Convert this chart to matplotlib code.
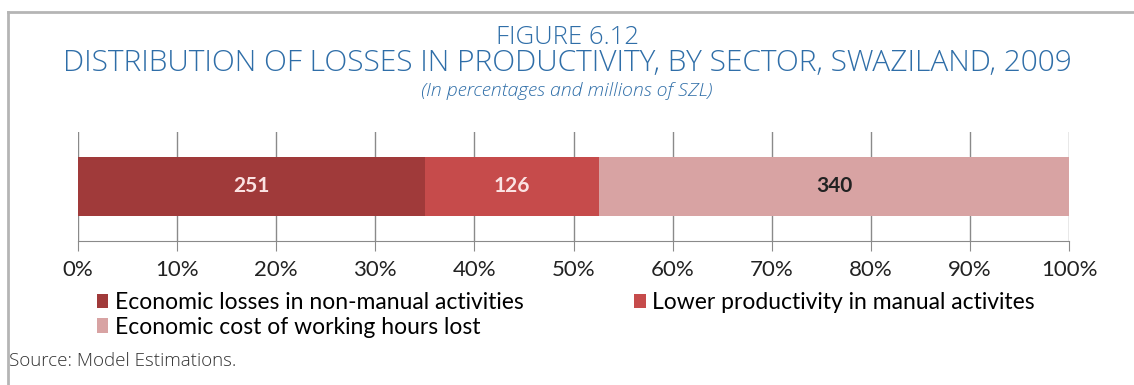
import matplotlib.pyplot as plt

series = ["Economic losses in non-manual activities",
          "Lower productivity in manual activites",
          "Economic cost of working hours lost"]
values = [251, 126, 340]
colors = ["#a03a3a", "#c64b4b", "#d8a3a3"]
label_colors = ["#fbe3e3", "#fbe3e3", "#222222"]
ticks = [0, 10, 20, 30, 40, 50, 60, 70, 80, 90, 100]

blue = "#2f6ea8"
font = "Lato"

fig = plt.figure(figsize=(11.34, 3.85), dpi=100)

# gray frame on top and left
fig.add_artist(plt.Line2D([8 / 1134, 8 / 1134], [0, 1 - 12 / 385], transform=fig.transFigure,
                          color="#b5b5b5", lw=2))
fig.add_artist(plt.Line2D([8 / 1134, 1], [1 - 12 / 385, 1 - 12 / 385], transform=fig.transFigure,
                          color="#b5b5b5", lw=2))

fig.text(0.5, 1 - 37 / 385, "FIGURE 6.12", ha="center", va="center",
         color=blue, fontsize=18.5, family="Open Sans", fontweight="light")
fig.text(0.5, 1 - 63 / 385, "DISTRIBUTION OF LOSSES IN PRODUCTIVITY, BY SECTOR, SWAZILAND, 2009",
         ha="center", va="center", color=blue, fontsize=21.5, family="Open Sans", fontweight="light")
fig.text(0.5, 1 - 91 / 385, "(In percentages and millions of SZL)", ha="center", va="center",
         color=blue, fontsize=14, family="Open Sans", style="italic", fontweight="light")

ax = fig.add_axes([78 / 1134, 1 - 241 / 385, (1069 - 78) / 1134, 109 / 385])
total = sum(values)
left = 0
handles = []
for name, v, c, lc in zip(series, values, colors, label_colors):
    w = v / total * 100
    b = ax.barh(0.5, w, left=left, height=0.55, color=c, label=name, zorder=2)
    handles.append(b)
    ax.text(left + w / 2, 0.5, str(v), ha="center", va="center", color=lc,
            fontsize=15, family=font, fontweight="bold", zorder=3)
    left += w

ax.set_xlim(0, 100)
ax.set_ylim(0, 1)
ax.set_xticks(ticks)
ax.set_xticklabels([f"{t}%" for t in ticks], family=font, fontsize=16, color="#222222")
ax.set_yticks([])
ax.grid(axis="x", color="#8a8a8a", lw=1, zorder=1)
for s in ["top", "right", "left"]:
    ax.spines[s].set_visible(False)
ax.spines["bottom"].set_color("#8a8a8a")
ax.tick_params(axis="x", length=7, color="#8a8a8a", pad=7)

leg = fig.legend([handles[0], handles[2], handles[1]], [series[0], series[2], series[1]],
                 ncol=2, loc="upper left", bbox_to_anchor=(97 / 1134, 1 - 292 / 385),
                 frameon=False, handlelength=0.5, handleheight=0.6, handletextpad=0.3,
                 columnspacing=4.8, labelspacing=0.16, borderaxespad=0, borderpad=0,
                 prop={"family": font, "size": 16.5})

fig.text(9 / 1134, 1 - 361 / 385, "Source: Model Estimations.", ha="left", va="center",
         color="#333333", fontsize=13.5, family="Open Sans", fontweight="light")

fig.savefig("out.png", dpi=100)
